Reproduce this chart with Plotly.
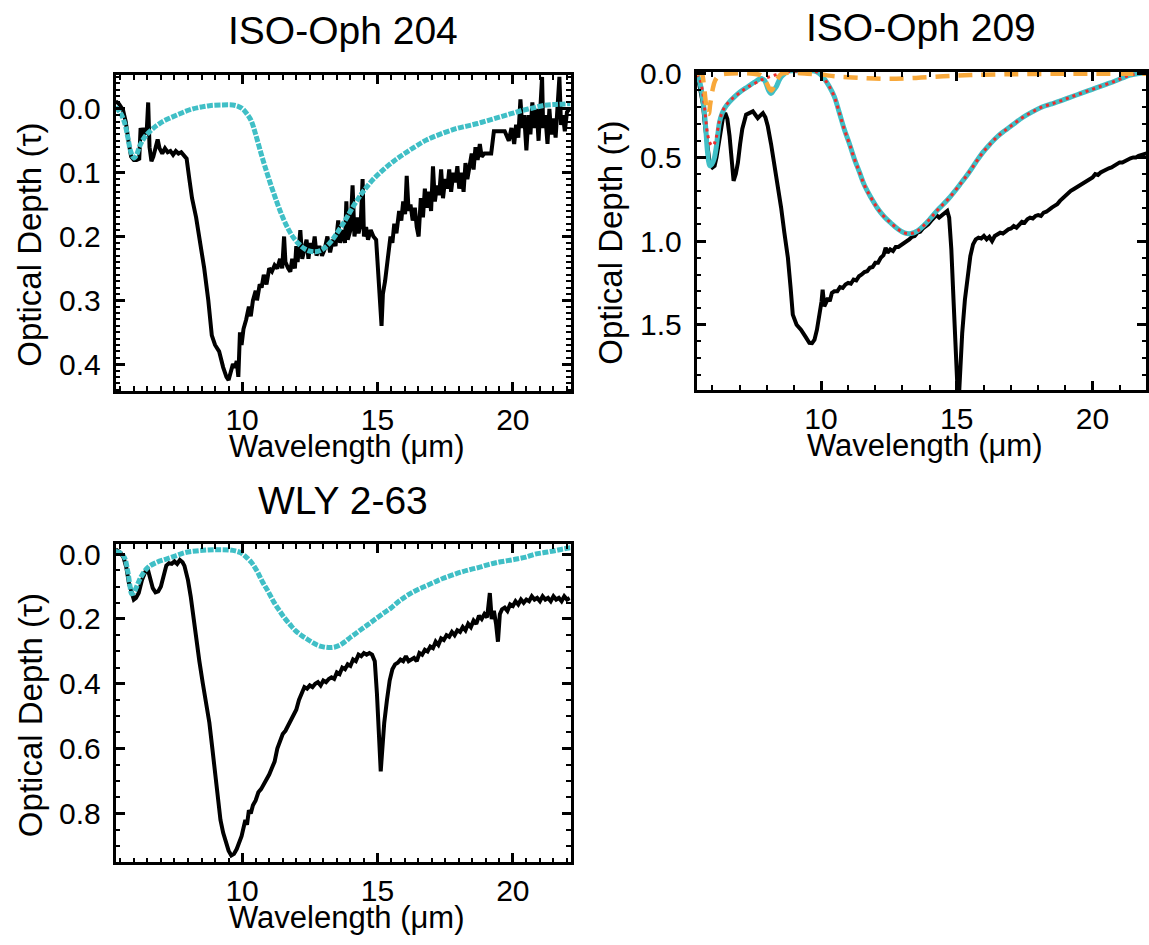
import plotly.graph_objects as go

W, H = 1149, 945
FONT = "Liberation Sans, Arial, Helvetica, sans-serif"

BLACK = "#000000"
CYAN = "#40bfc6"
RED = "#ee2b2b"
ORANGE = "#f8a83a"

# ---------------- ISO-Oph 204 ----------------
oph204_wave = [
    5.33, 5.45, 5.6, 5.7, 5.8, 5.9, 6.0, 6.1, 6.2, 6.25, 6.32, 6.4, 6.47, 6.53, 6.58, 6.65,
    6.72, 6.8, 6.88, 6.95, 7.05, 7.15, 7.25, 7.35, 7.45, 7.55, 7.65, 7.75, 7.85, 7.95, 8.05,
    8.15, 8.3, 8.45, 8.6, 8.75, 8.88, 9.0, 9.15, 9.3, 9.42, 9.5, 9.58, 9.66, 9.74, 9.8, 9.86,
    9.92, 9.98, 10.05, 10.15, 10.25, 10.32, 10.4, 10.5, 10.55, 10.65, 10.72, 10.8, 10.9, 11.0,
    11.1, 11.2, 11.3, 11.4, 11.48, 11.55, 11.6, 11.7, 11.78, 11.85, 11.95, 12.0, 12.05, 12.15,
    12.22, 12.3, 12.38, 12.45, 12.52, 12.6, 12.68, 12.75, 12.85, 12.95, 13.05, 13.15, 13.25,
    13.35, 13.45, 13.55, 13.62, 13.7, 13.8, 13.85, 13.9, 14.0, 14.08, 14.15, 14.25, 14.3,
    14.38, 14.45, 14.5, 14.58, 14.65, 14.75, 14.85, 14.95, 15.02, 15.1, 15.15, 15.2, 15.28,
    15.38, 15.48, 15.55, 15.62, 15.7, 15.8, 15.88, 15.95, 16.02, 16.08, 16.15, 16.22, 16.3,
    16.38, 16.45, 16.52, 16.6, 16.68, 16.75, 16.82, 16.9, 16.98, 17.05, 17.12, 17.2, 17.28,
    17.35, 17.42, 17.5, 17.58, 17.65, 17.72, 17.8, 17.88, 17.95, 18.02, 18.1, 18.18, 18.25,
    18.32, 18.4, 18.48, 18.55, 18.62, 18.7, 18.78, 18.85, 18.95, 19.05, 19.2, 19.3, 19.5,
    19.7, 19.85, 19.95, 20.05, 20.12, 20.2, 20.28, 20.35, 20.42, 20.5, 20.58, 20.65, 20.72,
    20.8, 20.88, 20.95, 21.02, 21.08, 21.12, 21.2, 21.28, 21.35, 21.42, 21.5, 21.58, 21.65,
    21.72, 21.78, 21.85, 21.92, 22.0, 22.1,
]
oph204_tau = [
    -0.012, -0.008, 0.002, 0.02, 0.05, 0.075, 0.08, 0.08, 0.078, 0.03, 0.045, 0.03, 0.04,
    -0.01, 0.06, 0.082, 0.075, 0.06, 0.048, 0.062, 0.07, 0.062, 0.068, 0.066, 0.072, 0.066,
    0.07, 0.068, 0.072, 0.078, 0.11, 0.14, 0.17, 0.21, 0.25, 0.3, 0.355, 0.37, 0.38, 0.405,
    0.42, 0.425, 0.412, 0.4, 0.405, 0.395, 0.42, 0.35, 0.37, 0.345, 0.33, 0.31, 0.325, 0.3,
    0.285, 0.3, 0.275, 0.28, 0.26, 0.275, 0.25, 0.255, 0.245, 0.25, 0.235, 0.25, 0.2, 0.24,
    0.25, 0.255, 0.235, 0.25, 0.215, 0.24, 0.19, 0.235, 0.22, 0.205, 0.235, 0.21, 0.225, 0.2,
    0.23, 0.215, 0.23, 0.22, 0.2, 0.225, 0.205, 0.215, 0.175, 0.21, 0.19, 0.21, 0.145, 0.205,
    0.19, 0.12, 0.2, 0.17, 0.195, 0.18, 0.11, 0.2, 0.185, 0.205, 0.19, 0.2, 0.205, 0.26, 0.32,
    0.34, 0.29, 0.27, 0.235, 0.2, 0.21, 0.18, 0.195, 0.16, 0.175, 0.145, 0.165, 0.105, 0.16,
    0.15, 0.175, 0.155, 0.185, 0.2, 0.14, 0.17, 0.125, 0.155, 0.13, 0.16, 0.09, 0.145, 0.12,
    0.135, 0.095, 0.14, 0.11, 0.125, 0.095, 0.13, 0.1, 0.115, 0.09, 0.125, 0.1, 0.13, 0.085,
    0.11, 0.09, 0.07, 0.095, 0.06, 0.08, 0.055, 0.075, 0.07, 0.07, 0.07, 0.035, 0.035, 0.035,
    0.05, 0.03, 0.055, 0.025, 0.045, -0.015, 0.03, 0.01, 0.065, 0.01, 0.04, -0.01, 0.03, 0.0,
    0.05, -0.02, -0.05, 0.03, 0.01, 0.055, 0.0, 0.04, 0.015, 0.045, 0.0, -0.05, 0.025, 0.01,
    0.035, 0.005, 0.0,
]
oph204_model_wave = [
    5.33, 5.5, 5.66, 5.78, 5.88, 6.0, 6.1, 6.21, 6.33, 6.46, 6.7, 6.95, 7.25, 7.57, 7.9,
    8.18, 8.5, 8.79, 9.2, 9.65, 9.85, 10.02, 10.18, 10.33, 10.5, 10.7, 10.9, 11.1, 11.3,
    11.5, 11.7, 11.9, 12.1, 12.3, 12.5, 12.7, 12.9, 13.1, 13.3, 13.5, 13.7, 13.9, 14.1,
    14.3, 14.5, 14.85, 15.2, 15.6, 16.0, 16.4, 16.8, 17.3, 17.9, 18.3, 18.7, 19.1, 19.5,
    19.9, 20.3, 20.7, 21.1, 21.6, 22.13,
]
oph204_model_tau = [
    -0.003, 0.006, 0.022, 0.045, 0.066, 0.077, 0.072, 0.059, 0.049, 0.041, 0.031, 0.023,
    0.016, 0.01, 0.004, 0.0, -0.003, -0.005, -0.006, -0.006, -0.004, 0.0, 0.008, 0.018,
    0.04, 0.07, 0.098, 0.124, 0.148, 0.17, 0.188, 0.202, 0.212, 0.219, 0.223, 0.224, 0.222,
    0.216, 0.207, 0.195, 0.182, 0.168, 0.153, 0.14, 0.128, 0.11, 0.096, 0.082, 0.07, 0.059,
    0.049, 0.04, 0.031, 0.027, 0.023, 0.018, 0.013, 0.008, 0.003, -0.001, -0.005, -0.007,
    -0.008,
]

# ---------------- ISO-Oph 209 ----------------
oph209_wave = [
    5.44, 5.55, 5.65, 5.72, 5.8, 5.9, 6.0, 6.08, 6.15, 6.22, 6.3, 6.38, 6.47, 6.55, 6.63,
    6.71, 6.78, 6.86, 6.94, 7.02, 7.1, 7.24, 7.36, 7.49, 7.58, 7.67, 7.76, 7.86, 7.95, 8.04,
    8.16, 8.29, 8.41, 8.53, 8.65, 8.78, 8.88, 8.96, 9.1, 9.26, 9.42, 9.57, 9.67, 9.76, 9.85,
    9.94, 10.02, 10.06, 10.12, 10.18, 10.25, 10.32, 10.4, 10.49, 10.6, 10.7, 10.8, 10.9,
    11.0, 11.1, 11.2, 11.3, 11.4, 11.5, 11.6, 11.7, 11.8, 11.9, 12.0, 12.1, 12.2, 12.3,
    12.38, 12.45, 12.55, 12.65, 12.75, 12.85, 12.95, 13.05, 13.15, 13.25, 13.35, 13.45,
    13.55, 13.65, 13.75, 13.85, 13.95, 14.05, 14.15, 14.25, 14.35, 14.45, 14.55, 14.65,
    14.72, 14.8, 14.88, 14.95, 15.02, 15.08, 15.12, 15.2, 15.3, 15.4, 15.5, 15.6, 15.7,
    15.8, 15.9, 16.0, 16.1, 16.2, 16.3, 16.4, 16.5, 16.6, 16.7, 16.8, 16.9, 17.0, 17.1,
    17.2, 17.3, 17.4, 17.5, 17.6, 17.7, 17.8, 17.9, 18.0, 18.1, 18.2, 18.3, 18.4, 18.5,
    18.6, 18.7, 18.8, 18.9, 19.0, 19.1, 19.2, 19.3, 19.4, 19.5, 19.6, 19.7, 19.8, 19.9,
    20.0, 20.1, 20.2, 20.3, 20.4, 20.5, 20.6, 20.7, 20.8, 20.9, 21.0, 21.1, 21.2, 21.3,
    21.4, 21.5, 21.6, 21.7, 21.8, 21.9, 22.0,
]
oph209_tau = [
    0.0, 0.1, 0.18, 0.3, 0.43, 0.54, 0.56, 0.55, 0.5, 0.42, 0.33, 0.27, 0.235, 0.27, 0.37,
    0.52, 0.64, 0.6, 0.53, 0.42, 0.33, 0.245, 0.235, 0.225, 0.245, 0.265, 0.25, 0.235, 0.26,
    0.314, 0.42, 0.55, 0.67, 0.8, 0.95, 1.1, 1.28, 1.44, 1.5, 1.53, 1.57, 1.608, 1.61, 1.59,
    1.53, 1.45, 1.36, 1.29, 1.39, 1.37, 1.34, 1.36, 1.31, 1.3, 1.3, 1.275, 1.28, 1.26, 1.25,
    1.255, 1.23, 1.235, 1.21, 1.2, 1.185, 1.18, 1.16, 1.155, 1.13, 1.13, 1.1, 1.085, 1.04,
    1.07, 1.05, 1.06, 1.035, 1.035, 1.025, 1.01, 1.005, 0.99, 0.975, 0.97, 0.95, 0.945,
    0.925, 0.915, 0.9, 0.88, 0.865, 0.845, 0.86, 0.845, 0.83, 0.82, 0.86, 1.05, 1.35, 1.65,
    1.86, 1.93, 1.78, 1.55, 1.35, 1.2, 1.09, 1.02, 0.99, 0.98, 0.985, 0.97, 0.99, 0.975, 1.0,
    0.97, 0.96, 0.95, 0.955, 0.94, 0.93, 0.925, 0.91, 0.92, 0.9, 0.885, 0.89, 0.87, 0.86,
    0.865, 0.85, 0.845, 0.85, 0.83, 0.825, 0.81, 0.8, 0.79, 0.78, 0.76, 0.745, 0.725, 0.715,
    0.7, 0.69, 0.68, 0.67, 0.66, 0.645, 0.64, 0.625, 0.62, 0.6, 0.605, 0.59, 0.58, 0.575,
    0.565, 0.56, 0.55, 0.54, 0.53, 0.53, 0.52, 0.51, 0.505, 0.5, 0.5, 0.49, 0.485, 0.48,
    0.475,
]
oph209_fit_wave = [
    5.42, 5.55, 5.65, 5.71, 5.76, 5.82, 5.9, 5.98, 6.06, 6.14, 6.2, 6.26, 6.35, 6.45, 6.62,
    6.82, 7.05, 7.3, 7.55, 7.8, 7.92, 7.98, 8.07, 8.16, 8.25, 8.35, 8.44, 8.53, 8.65, 8.78,
    9.3, 9.76, 9.95, 10.12, 10.3, 10.49, 10.67, 10.86, 11.05, 11.23, 11.42, 11.6, 11.84,
    12.08, 12.33, 12.57, 12.82, 13.07, 13.31, 13.55, 13.8, 14.04, 14.29, 14.68, 15.15,
    15.45, 15.7, 15.96, 16.23, 16.5, 16.77, 17.1, 17.44, 17.78, 18.12, 18.45, 18.79, 19.12,
    19.46, 19.8, 20.13, 20.47, 20.81, 21.08, 21.35, 21.65, 21.97,
]
oph209_ice_tau = [
    0.0, 0.06, 0.16, 0.24, 0.34, 0.47, 0.55, 0.54, 0.51, 0.44, 0.36, 0.29, 0.24, 0.206,
    0.17, 0.137, 0.105, 0.078, 0.05, 0.029, 0.04, 0.06, 0.1, 0.118, 0.1, 0.078, 0.045,
    0.02, 0.0, -0.016, -0.016, -0.016, 0.0, 0.03, 0.075, 0.137, 0.23, 0.333, 0.42, 0.51,
    0.59, 0.667, 0.74, 0.804, 0.855, 0.892, 0.927, 0.951, 0.955, 0.94, 0.905, 0.863, 0.815,
    0.75, 0.655, 0.59, 0.53, 0.47, 0.42, 0.375, 0.34, 0.3, 0.26, 0.228, 0.2, 0.182, 0.164,
    0.144, 0.124, 0.104, 0.085, 0.065, 0.045, 0.027, 0.01, 0.0, -0.004,
]
oph209_sil_tau = [
    0.0, 0.04, 0.12, 0.2, 0.28, 0.36, 0.41, 0.43, 0.42, 0.38, 0.33, 0.28, 0.235, 0.2, 0.165,
    0.137, 0.108, 0.08, 0.058, 0.037, 0.03, 0.026, 0.02, 0.015, 0.01, 0.006, 0.002, 0.0,
    -0.006, -0.012, -0.016, -0.016, 0.0, 0.03, 0.075, 0.137, 0.23, 0.333, 0.42, 0.51, 0.59,
    0.667, 0.74, 0.804, 0.855, 0.892, 0.927, 0.951, 0.955, 0.94, 0.905, 0.863, 0.815, 0.75,
    0.655, 0.59, 0.53, 0.47, 0.42, 0.375, 0.34, 0.3, 0.26, 0.228, 0.2, 0.182, 0.164, 0.144,
    0.124, 0.104, 0.085, 0.065, 0.045, 0.027, 0.01, 0.0, -0.004,
]
oph209_orange_wave = [
    5.42, 5.6, 5.68, 5.74, 5.8, 5.86, 5.92, 6.0, 6.1, 6.25, 6.5, 7.5, 7.8, 7.98, 8.1, 8.18,
    8.28, 8.4, 8.55, 9.5, 10.0, 10.5, 11.5, 12.5, 13.5, 14.5, 15.5, 17.0, 19.0, 22.0,
]
oph209_orange_tau = [
    0.0, 0.0, 0.06, 0.15, 0.22, 0.24, 0.18, 0.1, 0.04, 0.01, 0.0, 0.0, 0.01, 0.05, 0.09,
    0.1, 0.07, 0.03, 0.0, 0.0, 0.005, 0.015, 0.025, 0.03, 0.025, 0.015, 0.008, 0.003, 0.0,
    0.0,
]

# ---------------- WLY 2-63 ----------------
wly_wave = [
    5.33, 5.5, 5.62, 5.72, 5.82, 5.92, 6.0, 6.08, 6.18, 6.3, 6.42, 6.52, 6.6, 6.7, 6.8, 6.9,
    7.0, 7.1, 7.2, 7.3, 7.4, 7.5, 7.6, 7.7, 7.8, 7.87, 8.0, 8.1, 8.2, 8.3, 8.42, 8.55, 8.67,
    8.79, 8.9, 9.0, 9.1, 9.2, 9.3, 9.4, 9.5, 9.6, 9.7, 9.8, 9.9, 9.98, 10.05, 10.12, 10.18,
    10.25, 10.32, 10.4, 10.5, 10.6, 10.7, 10.8, 10.9, 11.0, 11.1, 11.2, 11.3, 11.4, 11.5,
    11.6, 11.7, 11.8, 11.9, 12.0, 12.1, 12.2, 12.3, 12.4, 12.5, 12.6, 12.7, 12.8, 12.9,
    13.0, 13.1, 13.2, 13.3, 13.4, 13.5, 13.6, 13.7, 13.8, 13.9, 14.0, 14.1, 14.2, 14.3,
    14.4, 14.5, 14.6, 14.7, 14.8, 14.9, 14.98, 15.05, 15.12, 15.18, 15.25, 15.35, 15.45,
    15.55, 15.65, 15.75, 15.85, 15.95, 16.05, 16.15, 16.25, 16.35, 16.45, 16.55, 16.65,
    16.75, 16.85, 16.95, 17.05, 17.15, 17.25, 17.35, 17.45, 17.55, 17.65, 17.75, 17.85,
    17.95, 18.05, 18.15, 18.25, 18.35, 18.45, 18.55, 18.65, 18.75, 18.85, 18.95, 19.05,
    19.15, 19.22, 19.3, 19.38, 19.45, 19.52, 19.6, 19.7, 19.8, 19.9, 20.0, 20.1, 20.2,
    20.3, 20.4, 20.5, 20.6, 20.7, 20.8, 20.9, 21.0, 21.1, 21.2, 21.3, 21.4, 21.5, 21.6,
    21.7, 21.8, 21.9, 22.0, 22.1,
]
wly_tau = [
    -0.015, -0.005, 0.01, 0.04, 0.09, 0.125, 0.14, 0.135, 0.12, 0.08, 0.055, 0.048, 0.075,
    0.105, 0.118, 0.115, 0.1, 0.06, 0.035, 0.028, 0.03, 0.022, 0.03, 0.018, 0.025, 0.036,
    0.08, 0.13, 0.2, 0.27, 0.33, 0.4, 0.46, 0.52, 0.6, 0.67, 0.75, 0.82, 0.86, 0.89, 0.915,
    0.93, 0.925, 0.91, 0.89, 0.87, 0.845, 0.82, 0.835, 0.79, 0.8, 0.775, 0.76, 0.735, 0.725,
    0.71, 0.7, 0.68, 0.66, 0.64, 0.6, 0.575, 0.555, 0.545, 0.53, 0.51, 0.5, 0.48, 0.45, 0.43,
    0.41, 0.415, 0.405, 0.41, 0.4, 0.395, 0.405, 0.39, 0.395, 0.385, 0.38, 0.385, 0.365,
    0.37, 0.35, 0.355, 0.34, 0.345, 0.325, 0.33, 0.31, 0.315, 0.305, 0.31, 0.305, 0.31,
    0.33, 0.43, 0.58, 0.67, 0.6, 0.52, 0.45, 0.39, 0.355, 0.34, 0.335, 0.325, 0.33, 0.315,
    0.33, 0.325, 0.32, 0.33, 0.305, 0.31, 0.295, 0.3, 0.285, 0.29, 0.27, 0.28, 0.26, 0.265,
    0.25, 0.255, 0.24, 0.25, 0.235, 0.24, 0.225, 0.235, 0.215, 0.225, 0.205, 0.215, 0.19,
    0.2, 0.185, 0.195, 0.12, 0.2, 0.175, 0.215, 0.27, 0.185, 0.17, 0.165, 0.175, 0.155,
    0.16, 0.145, 0.155, 0.14, 0.15, 0.14, 0.145, 0.13, 0.14, 0.135, 0.145, 0.13, 0.14,
    0.135, 0.145, 0.13, 0.14, 0.135, 0.145, 0.13, 0.14, 0.135,
]
wly_model_wave = [
    5.33, 5.5, 5.65, 5.78, 5.86, 5.92, 6.0, 6.08, 6.18, 6.3, 6.53, 6.85, 7.2, 7.55, 7.9,
    8.3, 8.7, 9.1, 9.52, 9.75, 9.93, 10.14, 10.34, 10.55, 10.75, 10.96, 11.16, 11.36,
    11.56, 11.77, 11.97, 12.18, 12.38, 12.59, 12.79, 13.0, 13.2, 13.4, 13.6, 13.8, 14.01,
    14.21, 14.42, 14.62, 14.83, 15.24, 15.5, 15.78, 16.05, 16.33, 16.6, 16.87, 17.14,
    17.41, 17.75, 18.1, 18.45, 18.78, 19.1, 19.46, 19.8, 20.14, 20.48, 20.82, 21.16, 21.5,
    21.85, 22.13,
]
wly_model_tau = [
    -0.008, -0.004, 0.01, 0.055, 0.1, 0.122, 0.118, 0.105, 0.085, 0.065, 0.04, 0.025, 0.015,
    0.005, -0.005, -0.01, -0.013, -0.014, -0.013, -0.01, -0.005, 0.008, 0.025, 0.052, 0.085,
    0.115, 0.146, 0.172, 0.196, 0.217, 0.236, 0.25, 0.261, 0.272, 0.281, 0.286, 0.288,
    0.287, 0.281, 0.27, 0.256, 0.244, 0.231, 0.219, 0.206, 0.181, 0.166, 0.146, 0.13, 0.116,
    0.105, 0.095, 0.085, 0.075, 0.065, 0.055, 0.047, 0.04, 0.032, 0.025, 0.02, 0.015, 0.009,
    0.0, -0.005, -0.01, -0.016, -0.02,
]

# ---------------- panel geometry (pixels) ----------------
def fx(p):
    return p / W


def fy(p):
    return 1 - p / H


panels = {
    "1": dict(x=(116, 572), y=(61, 382), xr=[5.33, 22.13], yr=[0.442, -0.053],
              ydt=0.1, yminor=0.01, xminor=0.5, title="ISO-Oph 204"),
    "2": dict(x=(698.5, 1149), y=(58, 381), xr=[5.42, 21.97], yr=[1.89, -0.01],
              ydt=0.5, yminor=0.1, xminor=1.0, title="ISO-Oph 209"),
    "3": dict(x=(116, 572), y=(538, 861), xr=[5.33, 22.13], yr=[0.951, -0.03],
              ydt=0.2, yminor=0.05, xminor=0.5, title="WLY 2-63"),
}

fig = go.Figure()


def add_line(n, x, y, color, width, dash="solid", shape="linear"):
    suffix = "" if n == "1" else n
    fig.add_trace(go.Scatter(
        x=x, y=y, mode="lines", xaxis="x" + suffix, yaxis="y" + suffix,
        line=dict(color=color, width=width, dash=dash, shape=shape),
        hoverinfo="skip", showlegend=False,
    ))


# ISO-Oph 204
add_line("1", oph204_wave, oph204_tau, BLACK, 4)
add_line("1", oph204_model_wave, oph204_model_tau, CYAN, 5, dash="6px,1.5px", shape="spline")

# ISO-Oph 209
add_line("2", oph209_wave, oph209_tau, BLACK, 4)
add_line("2", oph209_fit_wave, oph209_ice_tau, CYAN, 5, shape="spline")
add_line("2", oph209_fit_wave, oph209_sil_tau, RED, 3, dash="3px,4px", shape="spline")
add_line("2", oph209_orange_wave, oph209_orange_tau, ORANGE, 4.5, dash="14px,9px", shape="spline")

# WLY 2-63
add_line("3", wly_wave, wly_tau, BLACK, 4)
add_line("3", wly_model_wave, wly_model_tau, CYAN, 5, dash="6px,1.5px", shape="spline")

layout = dict(
    width=W, height=H,
    margin=dict(l=0, r=0, t=0, b=0),
    paper_bgcolor="white", plot_bgcolor="white",
    showlegend=False,
    font=dict(family=FONT, color="black"),
)

annotations = []
for n, p in panels.items():
    suffix = "" if n == "1" else n
    common = dict(
        showline=True, linecolor="black", linewidth=3, mirror="allticks",
        ticks="inside", ticklen=9, tickwidth=2.5, tickcolor="black",
        showgrid=False, zeroline=False,
        tickfont=dict(family=FONT, size=30, color="black"),
    )
    layout["xaxis" + suffix] = dict(
        common, domain=[fx(p["x"][0]), fx(p["x"][1])], range=p["xr"],
        anchor="y" + suffix, tickvals=[10, 15, 20], ticklabelstandoff=0,
        minor=dict(ticks="inside", ticklen=4.5, tickwidth=2, tickcolor="black",
                   dtick=p["xminor"], tick0=0, showgrid=False),
    )
    layout["yaxis" + suffix] = dict(
        common, domain=[fy(p["y"][1]), fy(p["y"][0])], range=p["yr"],
        anchor="x" + suffix, tick0=0, dtick=p["ydt"], tickformat=".1f",
        ticklabelstandoff=6,
        minor=dict(ticks="inside", ticklen=4.5, tickwidth=2, tickcolor="black",
                   dtick=p["yminor"], tick0=0, showgrid=False),
    )
    xc = (p["x"][0] + p["x"][1]) / 2
    top, bottom = p["y"]
    annotations.append(dict(
        text=p["title"], xref="paper", yref="paper", x=fx(xc), y=fy(top - 45),
        xanchor="center", yanchor="middle", showarrow=False,
        font=dict(family=FONT, size=39, color="black"),
    ))
    annotations.append(dict(
        text="Wavelength (μm)", xref="paper", yref="paper", x=fx(xc + 4),
        y=fy(bottom + 56), xanchor="center", yanchor="middle", showarrow=False,
        font=dict(family=FONT, size=31, color="black"),
    ))
    annotations.append(dict(
        text="Optical Depth (τ)", xref="paper", yref="paper",
        x=fx(p["x"][0] - 86), y=fy((top + bottom) / 2 + 12),
        xanchor="center", yanchor="middle", textangle=-90, showarrow=False,
        font=dict(family=FONT, size=33, color="black"),
    ))

layout["annotations"] = annotations
fig.update_layout(**layout)

fig.write_html("out.html")
